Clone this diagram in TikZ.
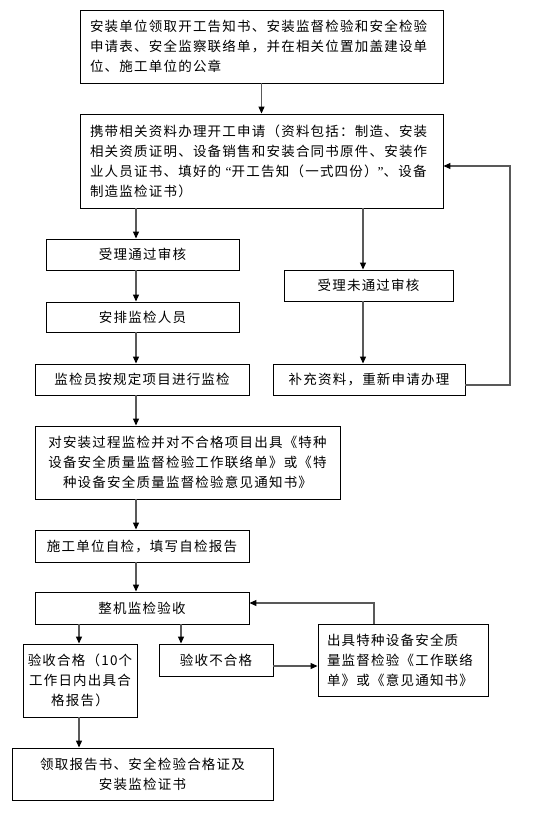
\documentclass[tikz,border=0pt]{standalone}
\usepackage{fontspec}
\newfontfamily\cjk[LetterSpace=9]{Noto Sans CJK SC}
\newfontfamily\qfont{Liberation Serif}
\usetikzlibrary{arrows.meta}
\begin{document}
\begin{tikzpicture}[x=1pt,y=-1pt,
  box/.style={draw=black,line width=0.9pt,inner sep=0pt,font=\cjk\fontsize{13.5}{20}\selectfont,anchor=center},
  arr/.style={draw=black!65,line width=1.1pt,-{Triangle[length=7pt,width=6pt,fill=black,color=black]}},
  ln/.style={draw=black,line width=0.9pt}]
\useasboundingbox[fill=white] (0,0) rectangle (553,833);
\node[box,minimum width=363pt,minimum height=73pt,text width=343pt,align=left] (b1) at (261.5,46.5)
 {安装单位领取开工告知书、安装监督检验和安全检验\\申请表、安全监察联络单，并在相关位置加盖建设单\\位、施工单位的公章};
\node[box,minimum width=363pt,minimum height=94pt,text width=343pt,align=left] (b2) at (261.5,161)
 {携带相关资料办理开工申请（资料包括：制造、安装\\相关资质证明、设备销售和安装合同书原件、安装作\\业人员证书、填好的{\qfont\ “}开工告知（一式四份）{\qfont”}、设备\\制造监检证书）};
\node[box,minimum width=193pt,minimum height=31pt] (pass) at (142.5,254.5) {受理通过审核};
\node[box,minimum width=193pt,minimum height=30pt] (arrange) at (142.5,317) {安排监检人员};
\node[box,minimum width=214pt,minimum height=31pt] (monitor) at (142,379.5) {监检员按规定项目进行监检};
\node[box,minimum width=169pt,minimum height=31pt] (fail) at (368.5,285.5) {受理未通过审核};
\node[box,minimum width=192pt,minimum height=31pt] (supp) at (369,379.5) {补充资料，重新申请办理};
\node[box,minimum width=305pt,minimum height=73pt,align=center] (proc) at (187.5,462.5)
 {对安装过程监检并对不合格项目出具《特种\\设备安全质量监督检验工作联络单》或《特\\种设备安全质量监督检验意见通知书》};
\node[box,minimum width=214pt,minimum height=32pt] (self) at (142,546) {施工单位自检，填写自检报告};
\node[box,minimum width=214pt,minimum height=32pt] (whole) at (142,608) {整机监检验收};
\node[box,minimum width=114pt,minimum height=73pt,align=center] (ok) at (80,680.5)
 {验收合格（10个\\工作日内出具合\\格报告）};
\node[box,minimum width=114pt,minimum height=32pt] (notok) at (216,660) {验收不合格};
\node[box,minimum width=170pt,minimum height=72pt,text width=152pt,align=left] (issue) at (403,660)
 {出具特种设备安全质\\量监督检验《工作联络\\单》或《意见通知书》};
\node[box,minimum width=261pt,minimum height=52pt,align=center] (get) at (142.5,774)
 {领取报告书、安全检验合格证及\\安装监检证书};
\coordinate (cL) at (136,0);
\coordinate (cR) at (363,0);
\coordinate (cA) at (79,0);
\coordinate (cB) at (181,0);
\coordinate (cI) at (374,0);
\coordinate (fb) at (510,385);
\coordinate (fb2) at (374,603);
\draw[arr] (b1) -- (b2);
\draw[arr] (b2.south -| cL) -- (pass.north -| cL);
\draw[arr] (pass.south -| cL) -- (arrange.north -| cL);
\draw[arr] (arrange.south -| cL) -- (monitor.north -| cL);
\draw[arr] (monitor.south -| cL) -- (proc.north -| cL);
\draw[arr] (proc.south -| cL) -- (self.north -| cL);
\draw[arr] (self.south -| cL) -- (whole.north -| cL);
\draw[arr] (b2.south -| cR) -- (fail.north -| cR);
\draw[arr] (fail.south -| cR) -- (supp.north -| cR);
\draw[arr] (supp.east |- fb) -- (fb) |- (b2.east |- 0,166);
\draw[arr] (whole.south -| cA) -- (ok.north -| cA);
\draw[arr] (whole.south -| cB) -- (notok.north -| cB);
\draw[arr] (ok.south -| cA) -- (get.north -| cA);
\draw[arr] (notok.east |- 0,666) -- (issue.west |- 0,666);
\draw[arr] (issue.north -| cI) -- (fb2) -- (whole.east |- fb2);
\end{tikzpicture}
\end{document}
